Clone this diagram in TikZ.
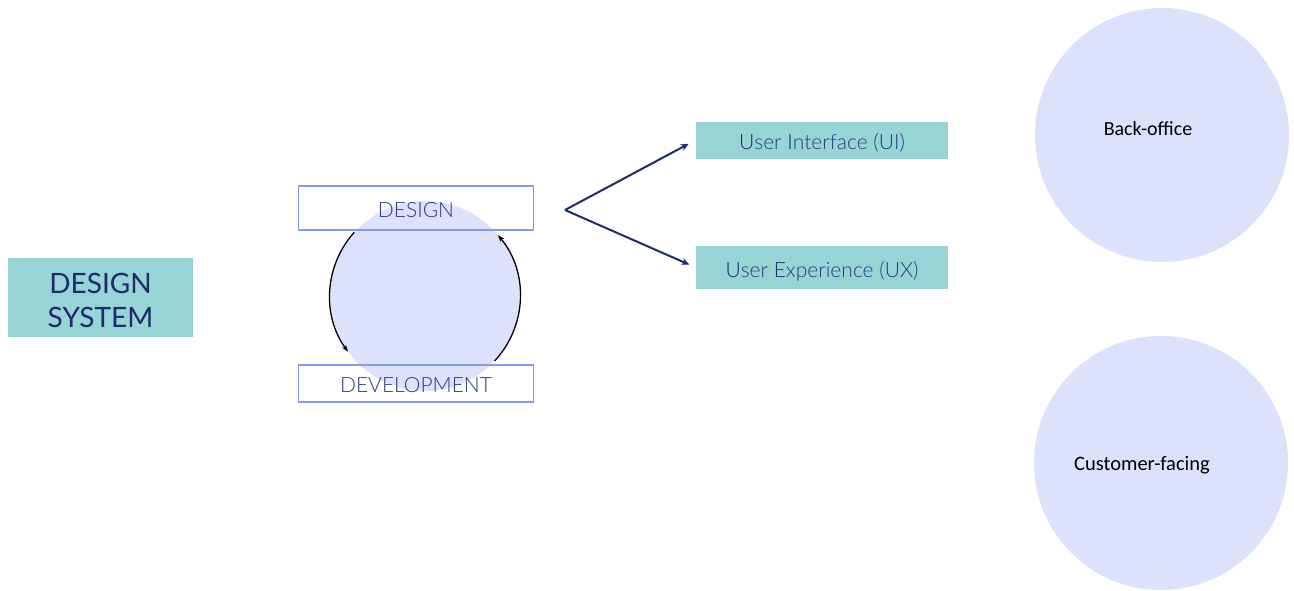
\documentclass[tikz,border=0pt]{standalone}
\usepackage{fontspec}
\setmainfont{Lato Light}
\newfontfamily\latoreg{Lato}
\newfontfamily\calib{Carlito}
\usetikzlibrary{arrows.meta}
\definecolor{teal}{RGB}{150,212,213}
\definecolor{lav}{RGB}{221,226,252}
\definecolor{frame}{RGB}{136,152,236}
\definecolor{navy}{RGB}{31,42,107}
\definecolor{softnavy}{RGB}{45,58,128}
\newcommand{\firstletter}[1]{{\color{navy}#1}}
\begin{document}
\begin{tikzpicture}[x=1pt,y=-1pt,
    tealbox/.style={fill=teal, draw=none, minimum width=252pt, minimum height=37pt, text height=24pt, text depth=5pt, font=\fontsize{21}{25}\selectfont, text=softnavy},
    stagebox/.style={draw=frame, line width=1.2pt, minimum width=235pt, text depth=0pt, font=\fontsize{21}{25}\selectfont, text=softnavy},
    bigdot/.style={circle, fill=lav, draw=none, minimum size=254pt, inner sep=0pt},
    cycarrow/.style={-{Stealth[length=7pt,width=5pt]}, line width=1.3pt, black},
    forkarrow/.style={-{Stealth[length=8pt,width=7pt]}, line width=2pt, navy}]
  \useasboundingbox (0,0) rectangle (1294,590);
  % design system block on the left
  \node[fill=teal, minimum width=185pt, minimum height=79pt] (ds) at (100.5,297.5) {};
  \node[align=center, text=navy, font=\latoreg\fontsize{28}{34}\selectfont] (dstxt) at (100.5,300) {DESIGN\\SYSTEM};
  % cycle: circle behind the two stages
  \node[circle, fill=lav, minimum size=190pt, inner sep=0pt] (cyc) at (425,296) {};
  \node[stagebox, minimum height=44pt, text height=18pt] (design) at (416,208) {DESIGN};
  \node[stagebox, minimum height=37pt, text height=17pt] (dev) at (416,383.5) {DEVELOPMENT};
  \draw[cycarrow] (cyc.138) arc[start angle=138, end angle=216, radius=95pt];
  \draw[cycarrow] (cyc.-43) arc[start angle=-43, end angle=40, radius=95pt];
  % fork to UI and UX
  \coordinate (fork) at (565,210);
  \node[tealbox] (ui) at (822,140) {\firstletter{U}ser \firstletter{I}nterface (UI)};
  \node[tealbox, minimum height=43pt] (ux) at (822,267.5) {\firstletter{U}ser \firstletter{E}xperience (UX)};
  \draw[forkarrow, shorten >=8pt] (fork) -- (ui.west);
  \draw[forkarrow, shorten >=7pt] (fork) -- (ux.west);
  % the two circles on the right
  \node[bigdot] (back) at (1162,135) {};
  \node[bigdot] (cust) at (1161,463) {};
  \node[font=\calib\fontsize{20}{24}\selectfont] (backtxt) at (1148,129) {Back-office};
  \node[font=\calib\fontsize{20.5}{24}\selectfont] (custtxt) at (1142,465) {Customer-facing};
\end{tikzpicture}
\end{document}
